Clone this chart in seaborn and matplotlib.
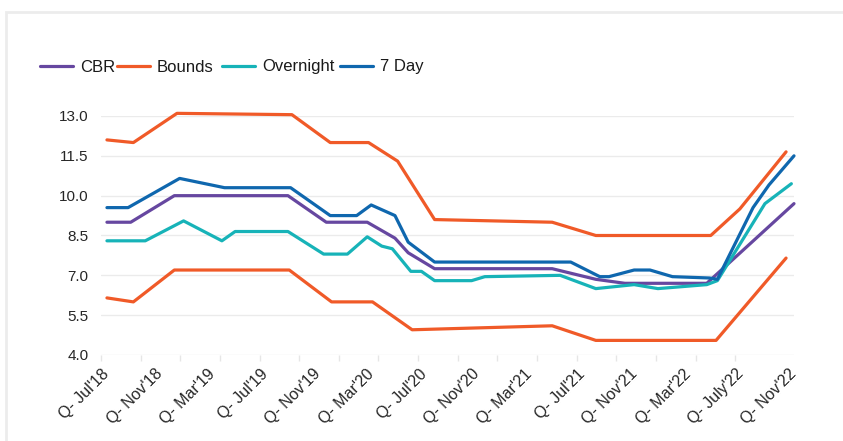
import pandas as pd
import matplotlib.pyplot as plt
import matplotlib.patches as patches
import seaborn as sns

# === Data (x = months since Jul 2018) ===
cbr_x = [0, 1.8, 5.1, 13.7, 16.6, 19.7, 21.8, 22.8, 24.8, 33.7, 37.0, 39.2, 45.4, 52.0]
cbr = [9.0, 9.0, 10.0, 10.0, 9.0, 9.0, 8.4, 7.85, 7.25, 7.25, 6.85, 6.7, 6.7, 9.7]

upper_x = [0, 2.0, 5.3, 14.0, 16.9, 19.8, 22.0, 24.8, 33.7, 37.0, 45.7, 47.9, 51.4]
upper = [12.1, 12.0, 13.1, 13.05, 12.0, 12.0, 11.3, 9.1, 9.0, 8.5, 8.5, 9.5, 11.65]

lower_x = [0, 2.0, 5.1, 13.8, 17.0, 20.1, 23.1, 33.7, 37.0, 46.1, 51.4]
lower = [6.15, 6.0, 7.2, 7.2, 6.0, 6.0, 4.95, 5.1, 4.55, 4.55, 7.65]

overnight_x = [0, 2.9, 5.8, 8.7, 9.7, 13.7, 16.4, 18.2, 19.7, 20.8, 21.6, 23.0, 23.8,
               24.8, 27.6, 28.6, 34.3, 37.0, 39.9, 41.7, 45.4, 46.2, 49.8, 51.8]
overnight = [8.3, 8.3, 9.05, 8.3, 8.65, 8.65, 7.8, 7.8, 8.45, 8.1, 8.0, 7.15, 7.15,
             6.8, 6.8, 6.95, 7.0, 6.5, 6.65, 6.5, 6.65, 6.8, 9.7, 10.45]

sevenday_x = [0, 1.6, 5.5, 8.9, 13.9, 16.9, 18.9, 20.0, 21.8, 22.8, 24.8, 35.1, 37.3,
              38.0, 39.9, 41.1, 42.8, 45.6, 46.2, 48.9, 50.1, 52.0]
sevenday = [9.55, 9.55, 10.65, 10.3, 10.3, 9.25, 9.25, 9.65, 9.25, 8.25, 7.5, 7.5, 6.95,
            6.95, 7.2, 7.2, 6.95, 6.9, 6.85, 9.55, 10.4, 11.5]

tick_months = list(range(0, 53, 4))
tick_labels = ["Q- Jul'18", "Q- Nov'18", "Q- Mar'19", "Q- Jul'19", "Q- Nov'19", "Q- Mar'20",
               "Q- Jul'20", "Q- Nov'20", "Q- Mar'21", "Q- Jul'21", "Q- Nov'21", "Q- Mar'22",
               "Q- July'22", "Q- Nov'22"]
y_ticks = [4.0, 5.5, 7.0, 8.5, 10.0, 11.5, 13.0]

colors = {"CBR": "#6647A0", "Bounds": "#F05A28", "Overnight": "#17B3B8", "7 Day": "#0F67AE"}

# === Style ===
sns.set_style("white")
plt.rcParams["font.family"] = ["Liberation Sans", "DejaVu Sans"]

fig = plt.figure(figsize=(8.43, 4.41), dpi=100)
ax = fig.add_axes([101 / 843, 86 / 441, 693 / 843, 239 / 441])

lw = 2.3
sns.lineplot(x=upper_x, y=upper, color=colors["Bounds"], lw=lw, label="Bounds", ax=ax,
             estimator=None, clip_on=False)
sns.lineplot(x=lower_x, y=lower, color=colors["Bounds"], lw=lw, ax=ax,
             estimator=None, clip_on=False)
sns.lineplot(x=cbr_x, y=cbr, color=colors["CBR"], lw=lw, label="CBR", ax=ax,
             estimator=None, clip_on=False)
sns.lineplot(x=overnight_x, y=overnight, color=colors["Overnight"], lw=lw, label="Overnight",
             ax=ax, estimator=None, clip_on=False)
sns.lineplot(x=sevenday_x, y=sevenday, color=colors["7 Day"], lw=lw, label="7 Day", ax=ax,
             estimator=None, clip_on=False)

# === Axes ===
ax.set_xlim(-0.45, 51.35)
ax.set_ylim(4.0, 13.0)
ax.set_yticks(y_ticks)
ax.set_yticklabels([f"{v:.1f}" for v in y_ticks])
ax.set_xticks(tick_months)
ax.set_xticklabels(tick_labels, rotation=45, ha="right", rotation_mode="anchor", va="center")
ax.set_xticks([-0.45 + 3 * k for k in range(17)], minor=True)
ax.tick_params(axis="x", which="major", length=0, pad=12, labelsize=11.5, labelcolor="#262626")
ax.tick_params(axis="x", which="minor", length=4, color="#e6e6e6", width=1, bottom=True)
ax.tick_params(axis="y", length=0, pad=9, labelsize=11, labelcolor="#262626")
ax.grid(axis="y", color="#ebebeb", lw=1)
ax.grid(axis="x", visible=False)
for s in ax.spines.values():
    s.set_visible(False)
ax.set_xlabel("")
ax.set_ylabel("")

# === Legend: one entry per slot so the keys sit where they do in the original ===
handles, labels = ax.get_legend_handles_labels()
ax.get_legend().remove()
legend_x = {"CBR": 40, "Bounds": 117, "Overnight": 222, "7 Day": 340}
for name, px in legend_x.items():
    h = handles[labels.index(name)]
    leg = fig.legend([h], [name], loc="center left",
                     bbox_to_anchor=(px / 843, 1 - 67 / 441), frameon=False,
                     borderpad=0, borderaxespad=0, handlelength=2.0, handletextpad=0.4,
                     prop={"family": ["Liberation Sans", "DejaVu Sans"], "size": 12})
    leg.get_texts()[0].set_color("#1a1a1a")

# === Light frame ===
fig.patches.append(patches.Rectangle((6 / 843, -0.05), 1.1, 1 - 12 / 441 + 0.05,
                                     transform=fig.transFigure, fill=False,
                                     edgecolor="#ececec", lw=2))

plt.savefig("out.png", dpi=100)
